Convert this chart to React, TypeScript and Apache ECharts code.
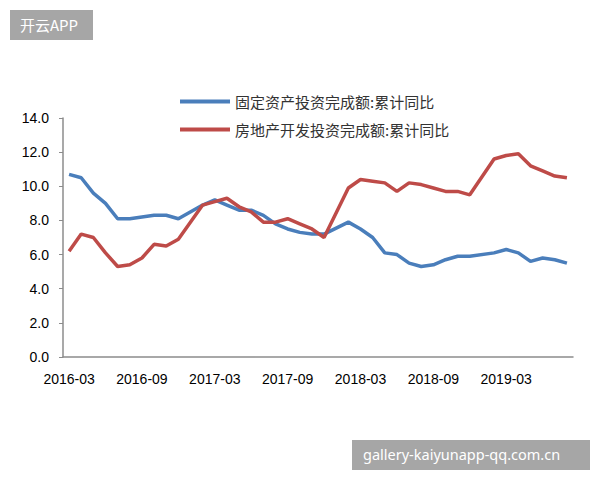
import React, { useRef, useEffect } from 'react';
import * as echarts from 'echarts';

// monthly categories; January has no release (Jan-Feb reported together)
const months: string[] = [
  '2016-03', '2016-04', '2016-05', '2016-06', '2016-07', '2016-08', '2016-09', '2016-10', '2016-11', '2016-12',
  '2017-01', '2017-02', '2017-03', '2017-04', '2017-05', '2017-06', '2017-07', '2017-08', '2017-09', '2017-10', '2017-11', '2017-12',
  '2018-01', '2018-02', '2018-03', '2018-04', '2018-05', '2018-06', '2018-07', '2018-08', '2018-09', '2018-10', '2018-11', '2018-12',
  '2019-01', '2019-02', '2019-03', '2019-04', '2019-05', '2019-06', '2019-07', '2019-08',
];

const fixedAsset: (number | null)[] = [
  10.7, 10.5, 9.6, 9.0, 8.1, 8.1, 8.2, 8.3, 8.3, 8.1,
  null, 8.9, 9.2, 8.9, 8.6, 8.6, 8.3, 7.8, 7.5, 7.3, 7.2, 7.2,
  null, 7.9, 7.5, 7.0, 6.1, 6.0, 5.5, 5.3, 5.4, 5.7, 5.9, 5.9,
  null, 6.1, 6.3, 6.1, 5.6, 5.8, 5.7, 5.5,
];

const realEstate: (number | null)[] = [
  6.2, 7.2, 7.0, 6.1, 5.3, 5.4, 5.8, 6.6, 6.5, 6.9,
  null, 8.9, 9.1, 9.3, 8.8, 8.5, 7.9, 7.9, 8.1, 7.8, 7.5, 7.0,
  null, 9.9, 10.4, 10.3, 10.2, 9.7, 10.2, 10.1, 9.9, 9.7, 9.7, 9.5,
  null, 11.6, 11.8, 11.9, 11.2, 10.9, 10.6, 10.5,
];

const seriesNames = ['固定资产投资完成额:累计同比', '房地产开发投资完成额:累计同比'];

const App: React.FC = () => {
  const chartRef = useRef<HTMLDivElement>(null);

  useEffect(() => {
    if (!chartRef.current) return;
    const chart = echarts.init(chartRef.current, null, { renderer: 'svg' });

    const axisColor = '#8c8c8c';
    const option: echarts.EChartsOption = {
      animation: false,
      backgroundColor: '#fff',
      grid: { left: 63, right: 27, top: 118, bottom: 123 },
      legend: {
        orient: 'vertical',
        left: 175,
        top: 89,
        itemWidth: 50,
        itemHeight: 4,
        itemGap: 13,
        icon: 'rect',
        textStyle: { color: '#333', fontSize: 15, fontFamily: 'Noto Sans CJK SC' },
        data: seriesNames,
      },
      xAxis: {
        type: 'category',
        data: months,
        boundaryGap: true,
        axisLine: { lineStyle: { color: axisColor, width: 1.5 } },
        axisTick: { inside: true, length: 5, interval: 5, lineStyle: { color: axisColor } },
        axisLabel: {
          interval: 5,
          margin: 15,
          color: '#000',
          fontSize: 14,
          fontFamily: 'Liberation Sans',
        },
      },
      yAxis: {
        type: 'value',
        min: 0,
        max: 14,
        interval: 2,
        splitLine: { show: false },
        axisLine: { show: true, lineStyle: { color: axisColor, width: 1.5 } },
        axisTick: { show: true, length: 4, lineStyle: { color: axisColor } },
        axisLabel: {
          margin: 14,
          color: '#000',
          fontSize: 14,
          fontFamily: 'Liberation Sans',
          formatter: (v: number) => v.toFixed(1),
        },
      },
      series: [
        {
          name: seriesNames[0],
          type: 'line',
          data: fixedAsset,
          connectNulls: true,
          showSymbol: false,
          color: '#4a7ebb',
          lineStyle: { width: 3.5, color: '#4a7ebb' },
        },
        {
          name: seriesNames[1],
          type: 'line',
          data: realEstate,
          connectNulls: true,
          showSymbol: false,
          color: '#be4b48',
          lineStyle: { width: 3.5, color: '#be4b48' },
        },
      ],
      graphic: [
        {
          type: 'rect',
          left: 10,
          top: 10,
          shape: { width: 83, height: 30 },
          style: { fill: '#a6a6a6' },
        },
        {
          type: 'text',
          left: 20,
          top: 17,
          style: { text: '开云APP', fill: '#fff', fontSize: 15, fontFamily: 'Noto Sans CJK SC' },
        },
        {
          type: 'rect',
          left: 352,
          top: 440,
          shape: { width: 238, height: 30 },
          style: { fill: '#a6a6a6' },
        },
        {
          type: 'text',
          left: 363,
          top: 446,
          style: { text: 'gallery-kaiyunapp-qq.com.cn', fill: '#fff', fontSize: 14.5, fontFamily: 'Noto Sans' },
        },
      ],
    };

    chart.setOption(option);
    return () => {
      chart.dispose();
    };
  }, []);

  return (
    <div
      ref={chartRef}
      style={{ position: 'absolute', left: 0, top: 0, width: 600, height: 480 }}
    />
  );
};

export default App;
